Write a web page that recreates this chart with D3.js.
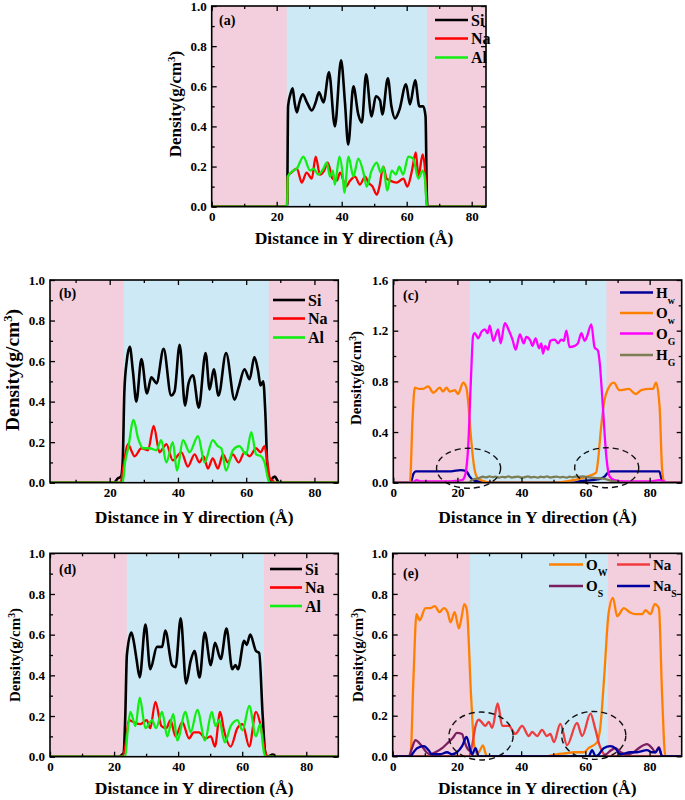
<!DOCTYPE html>
<html><head><meta charset="utf-8">
<script src="https://cdn.jsdelivr.net/npm/d3@7"></script>
<style>body{margin:0;background:#fff}text{font-family:"Liberation Serif","Times New Roman",serif;font-weight:bold}</style>
</head><body><svg id="c" width="685" height="800"></svg>
<script>
// ---------- DATA ----------
const xTicksMain = [0,20,40,60,80];
const xTicksB = [20,40,60,80];
const yTicks1 = [0,0.2,0.4,0.6,0.8,1.0];
const yTicksC = [0,0.4,0.8,1.2,1.6];
const blueA = [23.1,66.2], blueB = [24.1,66.6], blueC = [23.9,66.5], blueD = [24.0,66.8], blueE = [24.1,67.0];

const a_Si = [[0,0],[23.2,0],[23.5,0.5],[24.2,0.56],[24.9,0.59],[25.5,0.52],[26.2,0.47],[27,0.52],[28,0.56],[29.3,0.52],[30.8,0.48],[32,0.52],[33,0.57],[34.4,0.52],[36.1,0.67],[37.9,0.40],[39.8,0.73],[41,0.52],[42,0.31],[43.6,0.60],[45.1,0.46],[46.2,0.42],[47.5,0.66],[49.2,0.45],[50.5,0.55],[51.8,0.53],[52.5,0.46],[54.2,0.64],[55.3,0.50],[56.4,0.44],[57.7,0.48],[59.8,0.61],[61,0.51],[62.6,0.63],[63.9,0.50],[65.1,0.50],[65.8,0.45],[66.2,0.05],[66.4,0],[90,0]];
const a_Na = [[0,0],[23.2,0],[23.4,0.15],[24.5,0.17],[26.2,0.19],[27.7,0.12],[29.2,0.17],[30.8,0.14],[32,0.25],[33.3,0.16],[34.6,0.18],[35.7,0.22],[37.2,0.14],[38.5,0.13],[39.5,0.17],[41.3,0.10],[42.6,0.13],[44.1,0.15],[45.6,0.11],[47.2,0.15],[48.2,0.12],[49.5,0.10],[50.8,0.06],[51.6,0.10],[52.8,0.20],[53.8,0.14],[54.9,0.13],[56.9,0.12],[59,0.14],[60.2,0.10],[61.5,0.17],[62.8,0.27],[63.6,0.15],[64.9,0.26],[65.7,0.17],[66.1,0.02],[66.3,0],[90,0]];
const a_Al = [[0,0],[23.2,0],[23.4,0.15],[25.1,0.18],[26.2,0.19],[28.2,0.25],[30.3,0.18],[31.3,0.19],[32.8,0.16],[34.4,0.19],[35.4,0.22],[36.4,0.15],[37.3,0.18],[37.9,0.11],[39.3,0.25],[40.3,0.16],[40.8,0.07],[42.1,0.25],[43.6,0.15],[45.1,0.24],[46.7,0.17],[47.7,0.10],[49.2,0.18],[50.8,0.22],[52,0.17],[52.8,0.20],[54,0.08],[55.4,0.18],[56.7,0.16],[57.7,0.20],[58.9,0.16],[60.5,0.25],[62,0.24],[63.6,0.14],[64.9,0.18],[65.6,0.14],[66.1,0.02],[66.3,0],[90,0]];

const b_Si = [[2.5,0],[21.3,0],[22.3,0.02],[23.3,0.03],[23.8,0.1],[24.3,0.45],[25,0.6],[25.9,0.67],[26.8,0.55],[27.8,0.40],[29.3,0.61],[30.9,0.44],[32.2,0.52],[33.2,0.50],[33.7,0.49],[35.8,0.66],[38,0.43],[39,0.45],[40.5,0.68],[42.1,0.38],[43.1,0.49],[44.4,0.53],[46.1,0.37],[48.1,0.64],[49.3,0.46],[50.5,0.56],[51.9,0.43],[54.1,0.64],[56.6,0.41],[57.8,0.47],[59.5,0.56],[61,0.51],[62.4,0.62],[63.5,0.55],[64.2,0.48],[65,0.50],[65.6,0.35],[66.3,0.05],[67,0],[67.6,0.02],[68.4,0.03],[69.2,0.01],[69.7,0],[87,0]];
const b_Na = [[2.5,0],[23.2,0],[24,0.08],[25.4,0.19],[26.3,0.16],[27.3,0.13],[29.3,0.17],[31.2,0.16],[32.9,0.28],[34.6,0.15],[35.6,0.17],[36.6,0.19],[38.5,0.11],[41,0.15],[42.9,0.08],[44.9,0.14],[46.3,0.10],[47.5,0.13],[48.8,0.07],[50.2,0.12],[51.7,0.07],[53.2,0.14],[54.6,0.10],[56.1,0.14],[57.8,0.10],[59.5,0.15],[61,0.13],[62.9,0.17],[64.2,0.15],[65.4,0.18],[66.2,0.1],[67,0.02],[67.8,0.01],[68.3,0],[87,0]];
const b_Al = [[2.5,0],[23.8,0],[24.5,0.1],[25.4,0.17],[27,0.31],[28.3,0.22],[29.8,0.17],[31.7,0.17],[33.7,0.16],[35.1,0.21],[36.6,0.10],[38.5,0.20],[39.7,0.06],[41.5,0.21],[43.4,0.15],[45.9,0.23],[47.8,0.10],[50.2,0.21],[51.7,0.18],[52.7,0.17],[54.1,0.06],[56.1,0.16],[58,0.18],[60,0.14],[61.5,0.25],[62.9,0.14],[64.4,0.13],[65.4,0.10],[66.4,0.02],[67,0],[87,0]];

const c_Hw = [[0,0],[5.4,0],[6.3,0.07],[7,0.09],[10,0.09],[14,0.09],[18,0.09],[21,0.1],[22.8,0.09],[23.8,0.05],[25,0.02],[26.5,0.01],[29,0],[56,0],[58,0.01],[62,0.02],[64.5,0.03],[66,0.05],[67,0.08],[68,0.09],[72,0.09],[76,0.09],[80,0.09],[83,0.09],[83.6,0.04],[84,0],[90,0]];
const c_Ow = [[0,0],[5.2,0],[6,0.5],[6.7,0.75],[8,0.74],[9.3,0.74],[10.9,0.76],[12.5,0.71],[14.5,0.75],[15.5,0.72],[16.6,0.75],[17.6,0.72],[19.2,0.73],[20.2,0.70],[21.8,0.79],[22.8,0.75],[23.5,0.6],[24.1,0.4],[25.4,0.1],[26.5,0.03],[28.5,0.01],[30,0],[50,0],[54,0.01],[56,0.02],[58,0.03],[60.7,0.05],[63.3,0.08],[64,0.2],[64.7,0.4],[65.9,0.65],[67,0.74],[68.8,0.79],[70.6,0.73],[73.5,0.74],[75.6,0.70],[77.4,0.73],[80,0.74],[81,0.74],[82,0.79],[83.1,0.6],[83.9,0.1],[84.6,0],[90,0]];
const c_OG = [[0,0],[5.5,0],[6.5,0.01],[7.3,0.02],[8.5,0.01],[12,0.01],[15,0.01],[18,0.01],[20,0.015],[21.5,0.02],[22.3,0.05],[23.4,0.3],[24.2,0.8],[24.9,1.16],[25.4,1.18],[26.5,1.14],[27.5,1.19],[28.6,1.21],[29.4,1.18],[30.1,1.24],[31.2,1.12],[32.7,1.21],[33.5,1.10],[34.8,1.26],[36.1,1.20],[37.2,1.13],[38.2,1.05],[39.5,1.17],[40.7,1.10],[41.5,1.15],[42.8,1.12],[43.4,1.08],[44.4,1.14],[45.5,1.06],[46.2,1.10],[46.7,1.02],[47.4,1.08],[48.3,1.05],[49,1.12],[50.4,1.13],[51.4,1.10],[52.4,1.13],[53.2,1.12],[54,1.20],[55,1.07],[56.6,1.08],[57.6,1.10],[58.7,1.18],[59.7,1.12],[60.4,1.15],[61.8,1.25],[62.8,1.07],[63.9,1.04],[64.4,0.95],[65.4,0.6],[66.5,0.2],[67.5,0.05],[69,0.02],[72,0.01],[76,0.01],[80,0.01],[83,0.02],[84.5,0.01],[85.5,0],[90,0]];
const c_HG = [[0,0],[23.5,0],[24.5,0.02],[25.5,0.03],[26.5,0.035],[28,0.047],[29,0.042],[30,0.05],[31,0.044],[32,0.048],[33,0.04],[34,0.046],[35,0.043],[36,0.05],[37,0.041],[38,0.045],[39,0.048],[40,0.04],[41,0.044],[42,0.05],[43,0.042],[44,0.046],[45,0.04],[46,0.047],[47,0.043],[48,0.05],[49,0.041],[50,0.045],[51,0.048],[52,0.042],[53,0.046],[54,0.04],[55,0.047],[56,0.043],[57,0.049],[58,0.045],[59,0.05],[60,0.046],[61,0.042],[62,0.04],[64,0.035],[66,0.03],[68,0.015],[70,0.005],[71,0],[90,0]];

const d_Si = [[0,0],[21.4,0],[22.5,0.01],[23,0.02],[23.5,0.2],[24,0.5],[25.4,0.61],[26.1,0.57],[27,0.48],[28,0.39],[29.8,0.65],[31.3,0.43],[33.4,0.54],[35,0.54],[36,0.62],[38.1,0.45],[39.2,0.44],[40.8,0.68],[42.5,0.36],[43.9,0.47],[45.1,0.52],[46.7,0.39],[48.3,0.61],[50.2,0.45],[51.5,0.56],[53.3,0.48],[55.1,0.63],[56.9,0.43],[57.9,0.45],[58.7,0.43],[60.6,0.57],[61.4,0.55],[62.5,0.60],[64.3,0.52],[65.3,0.51],[66.4,0.2],[67.2,0.02],[68,0],[69.5,0.01],[70.5,0],[90,0]];
const d_Na = [[0,0],[22.5,0],[23.5,0.05],[24.6,0.18],[26.1,0.17],[28.2,0.16],[30.2,0.18],[31.3,0.14],[32.9,0.27],[34.8,0.15],[36.3,0.14],[37.6,0.18],[39.2,0.10],[41.3,0.17],[43.4,0.09],[44.9,0.12],[46.5,0.12],[48.6,0.09],[50.2,0.10],[51.5,0.05],[53.1,0.22],[54.3,0.13],[56.4,0.05],[58.5,0.14],[60.1,0.16],[62.2,0.05],[64.3,0.22],[65.8,0.15],[67.1,0.03],[67.9,0],[90,0]];
const d_Al = [[0,0],[23.5,0],[24.2,0.12],[25.1,0.22],[26.7,0.15],[28,0.29],[29.8,0.14],[31.9,0.18],[33.1,0.14],[35,0.22],[36.6,0.10],[38.5,0.21],[39.7,0.08],[42.3,0.22],[43.9,0.12],[46,0.23],[48.4,0.08],[50.5,0.22],[51.7,0.15],[52.8,0.18],[54.6,0.07],[56.4,0.15],[58.5,0.18],[60.1,0.13],[62.2,0.25],[64.3,0.10],[65.6,0.16],[66.8,0.02],[67.4,0],[90,0]];

const e_Ow = [[0,0],[5.5,0],[6.5,0.4],[7.4,0.70],[8.4,0.67],[10.2,0.73],[11.7,0.73],[13.1,0.74],[14.6,0.71],[15.9,0.73],[17.1,0.71],[18,0.66],[19.3,0.71],[20.6,0.63],[21.4,0.68],[22.3,0.75],[23.1,0.72],[24.4,0.3],[25.4,0.05],[26.3,0.01],[27.2,0.03],[28.1,0.054],[29,0.01],[29.4,0],[48,0],[51,0.01],[54,0.015],[56.4,0.02],[59.5,0.02],[61,0.04],[63.7,0.07],[64.7,0.15],[65.9,0.4],[67.2,0.7],[68.6,0.78],[69.9,0.69],[72,0.73],[73.8,0.71],[75.6,0.70],[77.7,0.70],[78.7,0.72],[80.3,0.70],[81.6,0.75],[82.9,0.73],[83.9,0.3],[84.9,0],[90,0]];
const e_Na = [[0,0],[23.7,0],[24.8,0.06],[25.8,0.15],[26.8,0.18],[28.9,0.15],[29.9,0.17],[31,0.14],[32.7,0.26],[34.1,0.15],[36.2,0.15],[38.2,0.11],[40.3,0.15],[42.4,0.10],[43.4,0.12],[45,0.10],[46.5,0.13],[48,0.10],[49.1,0.11],[50.2,0.07],[52.2,0.16],[54.3,0.055],[57.4,0.165],[59,0.10],[61.6,0.21],[63,0.14],[64.5,0.05],[65.8,0.01],[66.5,0],[90,0]];
const e_Os = [[0,0],[5,0],[6,0.04],[7.1,0.08],[8,0.07],[9.1,0.05],[10.5,0.02],[11.7,0.01],[13.3,0.02],[15.4,0.04],[17.4,0.07],[18.7,0.09],[20,0.115],[21.6,0.11],[22.4,0.07],[23.2,0.04],[24.4,0.02],[25.2,0],[65,0],[66.5,0.01],[68,0.03],[69.4,0.04],[71,0.02],[73,0.01],[75,0.02],[76.6,0.04],[79.2,0.06],[80.8,0.04],[81.8,0.02],[82.9,0.045],[83.9,0],[90,0]];
const e_NaS = [[0,0],[5.5,0],[6.5,0.02],[7.6,0.04],[9.7,0.05],[11.2,0.03],[12.2,0.01],[14.8,0.01],[16.9,0.02],[18.5,0.01],[20,0.02],[21.6,0.05],[23,0.095],[24.2,0.03],[24.7,0.01],[25.8,0.04],[26.8,0],[61,0],[62.1,0.03],[63.2,0],[64.2,0.01],[65.7,0.04],[67.8,0.05],[69.3,0.04],[70.9,0.01],[74,0.02],[76,0.02],[79.2,0.03],[80.8,0.02],[81.8,0.02],[82.9,0.04],[83.9,0],[90,0]];

const c_ellipses = [[23.5,0.114,10,0.158],[66.6,0.118,10,0.158]];
const e_ellipses = [[27.5,0.10,10,0.118],[62.6,0.103,10,0.118]];

// ---------- STYLE ----------
const PINK = "#f3cfdd", BLUE = "#cde9f6";
const COL = {Si:"#000000", Na:"#ff0000", Al:"#11ee11", Hw:"#000099", Ow:"#ff8000", OG:"#ff00ff", HG:"#7d7d55", Na2:"#f03c3c", Os:"#7b1f60", NaS:"#0000a0"};

const svg = d3.select("#c");
let clipId = 0;

function panel(cfg){
  const x = d3.scaleLinear().domain(cfg.xDom).range([cfg.l, cfg.r]);
  const y = d3.scaleLinear().domain(cfg.yDom).range([cfg.b, cfg.t]);
  const g = svg.append("g");
  const id = "clip" + (clipId++);
  svg.append("defs").append("clipPath").attr("id", id).append("rect")
    .attr("x", cfg.l).attr("y", cfg.t).attr("width", cfg.r - cfg.l).attr("height", cfg.b - cfg.t);
  g.append("rect").attr("x", cfg.l).attr("y", cfg.t).attr("width", cfg.r - cfg.l).attr("height", cfg.b - cfg.t).attr("fill", PINK);
  g.append("rect").attr("x", x(cfg.blue[0])).attr("y", cfg.t).attr("width", x(cfg.blue[1]) - x(cfg.blue[0])).attr("height", cfg.b - cfg.t).attr("fill", BLUE);
  const line = d3.line().x(d => x(d[0])).y(d => y(d[1])).curve(d3.curveMonotoneX);
  const pg = g.append("g").attr("clip-path", `url(#${id})`);
  cfg.series.forEach(s => {
    pg.append("path").attr("d", line(s.data)).attr("fill", "none").attr("stroke", s.color)
      .attr("stroke-width", s.w || 2.3).attr("stroke-linejoin", "round");
  });
  (cfg.ellipses || []).forEach(e => {
    g.append("ellipse").attr("cx", x(e[0])).attr("cy", y(e[1]))
      .attr("rx", x(e[0] + e[2]) - x(e[0])).attr("ry", y(0) - y(e[3]))
      .attr("fill", "none").attr("stroke", "#111").attr("stroke-width", 1.4).attr("stroke-dasharray", "6,4");
  });
  const xMinor = d3.range(10, cfg.xDom[1] + 0.01, 20).filter(v => v > cfg.xDom[0] && v < cfg.xDom[1]);
  const xMajor = d3.range(0, cfg.xDom[1] + 0.01, 20).filter(v => v >= cfg.xDom[0] && v <= cfg.xDom[1]);
  const yMajor = cfg.yTicks;
  const yStep = yMajor[1] - yMajor[0];
  const yMinor = yMajor.slice(0, -1).map(v => v + yStep / 2);
  const ax = (gen, tr, vals, size, fmt) => {
    const a = g.append("g").attr("transform", tr).call(gen.tickValues(vals).tickSize(size).tickPadding(5).tickFormat(fmt));
    a.select(".domain").remove();
    a.selectAll("line").attr("stroke", "#000").attr("stroke-width", 1.3);
    a.selectAll("text").attr("font-size", 13).attr("fill", "#000")
      .style("font-family", '"Liberation Serif","Times New Roman",serif').style("font-weight", "bold");
    return a;
  };
  const none = () => "";
  ax(d3.axisBottom(x), `translate(0,${cfg.b})`, cfg.xLabels, -5, d3.format("d"));
  ax(d3.axisBottom(x), `translate(0,${cfg.b})`, xMajor.filter(v => !cfg.xLabels.includes(v)), -5, none);
  ax(d3.axisBottom(x), `translate(0,${cfg.b})`, xMinor, -3, none);
  ax(d3.axisTop(x), `translate(0,${cfg.t})`, xMajor, -5, none);
  ax(d3.axisTop(x), `translate(0,${cfg.t})`, xMinor, -3, none);
  ax(d3.axisLeft(y), `translate(${cfg.l},0)`, yMajor, -5, d3.format(".1f"));
  ax(d3.axisLeft(y), `translate(${cfg.l},0)`, yMinor, -3, none);
  ax(d3.axisRight(y), `translate(${cfg.r},0)`, yMajor, -5, none);
  ax(d3.axisRight(y), `translate(${cfg.r},0)`, yMinor, -3, none);
  g.append("rect").attr("x", cfg.l).attr("y", cfg.t).attr("width", cfg.r - cfg.l).attr("height", cfg.b - cfg.t)
    .attr("fill", "none").attr("stroke", "#000").attr("stroke-width", 1.6);
  g.append("text").attr("x", cfg.xTitleX || (cfg.l + cfg.r) / 2).attr("y", cfg.xTitleY).attr("text-anchor", "middle")
    .attr("font-size", 17.5).text("Distance in Y direction (Å)");
  const yt = g.append("text").attr("transform", `translate(${cfg.yTitle[0]},${cfg.yTitle[1]}) rotate(-90)`)
    .attr("text-anchor", "middle").attr("dy", "0.35em").attr("font-size", cfg.yTitle[2]);
  yt.append("tspan").text("Density(g/cm");
  yt.append("tspan").attr("baseline-shift", "super").attr("font-size", cfg.yTitle[2] * 0.65).text("3");
  yt.append("tspan").text(")");
  g.append("text").attr("x", cfg.tag[0]).attr("y", cfg.tag[1]).attr("font-size", 14).text(cfg.tag[2]);
  cfg.legend.forEach(L => {
    g.append("line").attr("x1", L.x1).attr("x2", L.x2).attr("y1", L.y).attr("y2", L.y)
      .attr("stroke", L.color).attr("stroke-width", 2.6);
    const t = g.append("text").attr("x", L.x2 + 3).attr("y", L.y).attr("dy", "0.35em").attr("font-size", L.fs);
    t.append("tspan").text(L.name);
    if (L.sub) t.append("tspan").attr("baseline-shift", "sub").attr("font-size", L.fs * 0.65).text(L.sub);
  });
}

const leg3 = (x1, x2, ys, fs) => [
  {name:"Si", color:COL.Si, x1, x2, y:ys[0], fs},
  {name:"Na", color:COL.Na, x1, x2, y:ys[1], fs},
  {name:"Al", color:COL.Al, x1, x2, y:ys[2], fs}];

panel({l:211.7, r:486, t:6, b:206.7, xDom:[0,84.4], yDom:[0,1], yTicks:yTicks1, xLabels:xTicksMain, blue:blueA,
  series:[{data:a_Si,color:COL.Si,w:2.6},{data:a_Na,color:COL.Na},{data:a_Al,color:COL.Al}],
  xTitleX:354, xTitleY:244, yTitle:[175,104,17], tag:[219,25,"(a)"], legend:leg3(435,468,[20,38.5,57.5],16)});

panel({l:50, r:338.3, t:280, b:482.7, xDom:[2.5,87], yDom:[0,1], yTicks:yTicks1, xLabels:xTicksB, blue:blueB,
  series:[{data:b_Si,color:COL.Si,w:2.6},{data:b_Na,color:COL.Na},{data:b_Al,color:COL.Al}],
  xTitleY:523, yTitle:[12,370,19.5], tag:[59,298,"(b)"], legend:leg3(273,305,[300,318.5,337.5],16)});

panel({l:393.3, r:681.7, t:280, b:482.7, xDom:[0,90], yDom:[0,1.6], yTicks:yTicksC, xLabels:xTicksMain, blue:blueC,
  series:[{data:c_Hw,color:COL.Hw},{data:c_Ow,color:COL.Ow},{data:c_OG,color:COL.OG},{data:c_HG,color:COL.HG}],
  ellipses:c_ellipses,
  xTitleY:523, yTitle:[356,378,15], tag:[403,300,"(c)"],
  legend:[{name:"H",sub:"w",color:COL.Hw,x1:620,x2:653,y:292.5,fs:15},
          {name:"O",sub:"w",color:COL.Ow,x1:620,x2:653,y:313,fs:15},
          {name:"O",sub:"G",color:COL.OG,x1:620,x2:653,y:333.5,fs:15},
          {name:"H",sub:"G",color:COL.HG,x1:620,x2:653,y:355,fs:15}]});

panel({l:50, r:338.3, t:553.3, b:756.7, xDom:[0,90], yDom:[0,1], yTicks:yTicks1, xLabels:xTicksMain, blue:blueD,
  series:[{data:d_Si,color:COL.Si,w:2.6},{data:d_Na,color:COL.Na},{data:d_Al,color:COL.Al}],
  xTitleY:794, yTitle:[15,655,15], tag:[59,574,"(d)"], legend:leg3(270,302,[569,587.5,606],16)});

panel({l:392.7, r:681.7, t:553.3, b:756.3, xDom:[0,90], yDom:[0,1], yTicks:yTicks1, xLabels:xTicksMain, blue:blueE,
  series:[{data:e_Ow,color:COL.Ow},{data:e_Na,color:COL.Na2},{data:e_Os,color:COL.Os},{data:e_NaS,color:COL.NaS}],
  ellipses:e_ellipses,
  xTitleY:794, yTitle:[358,655,15], tag:[403,578,"(e)"],
  legend:[{name:"O",sub:"W",color:COL.Ow,x1:549,x2:583,y:564.5,fs:15},
          {name:"Na",color:COL.Na2,x1:617,x2:650,y:564.5,fs:15},
          {name:"O",sub:"S",color:COL.Os,x1:549,x2:583,y:586,fs:15},
          {name:"Na",sub:"S",color:COL.NaS,x1:617,x2:650,y:586,fs:15}]});
</script></body></html>
